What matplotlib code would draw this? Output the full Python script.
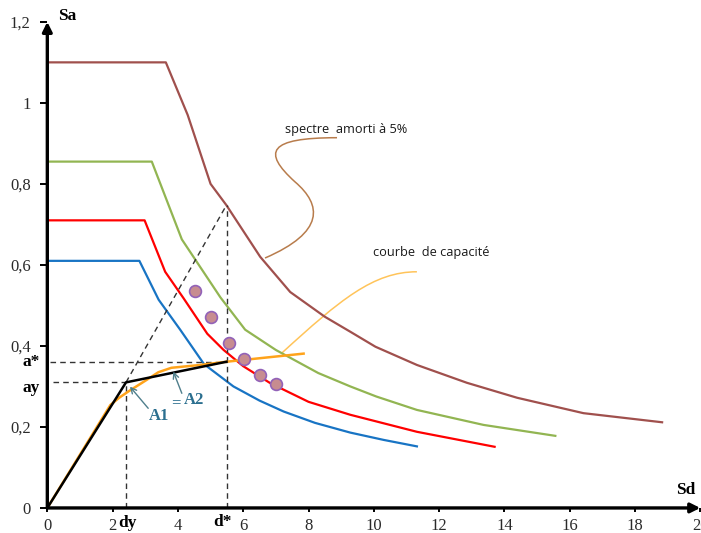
import numpy as np
import matplotlib
matplotlib.use("Agg")
import matplotlib.pyplot as plt
from matplotlib.path import Path
from matplotlib.patches import PathPatch

# =========================
# DATA
# =========================
# damped spectra (ADRS), Sd in cm, Sa in g
brown_x = [0, 3.63, 4.3, 5.0, 5.48, 6.52, 7.44, 8.5, 9.28, 10.05, 11.32, 12.85, 14.39, 16.42, 18.83]
brown_y = [1.1, 1.1, 0.97, 0.80, 0.748, 0.62, 0.533, 0.472, 0.435, 0.398, 0.353, 0.309, 0.272, 0.234, 0.2115]

green_x = [0, 3.2, 4.12, 5.3, 6.06, 7.0, 8.3, 9.28, 10.08, 11.32, 13.36, 15.56]
green_y = [0.855, 0.855, 0.663, 0.52, 0.44, 0.39, 0.333, 0.30, 0.275, 0.242, 0.205, 0.178]

red_x = [0, 2.98, 3.61, 4.17, 4.9, 5.4, 6.0, 6.83, 8.0, 9.28, 11.32, 13.7]
red_y = [0.71, 0.71, 0.583, 0.518, 0.43, 0.39, 0.35, 0.308, 0.262, 0.23, 0.188, 0.151]

blue_x = [0, 2.82, 3.41, 4.07, 4.8, 5.7, 6.5, 7.24, 8.2, 9.28, 10.3, 11.32]
blue_y = [0.61, 0.61, 0.514, 0.44, 0.355, 0.30, 0.265, 0.238, 0.21, 0.186, 0.168, 0.152]

# capacity curve
cap_x = [0, 1.93, 2.2, 2.49, 3.04, 3.4, 3.8, 4.69, 5.49, 7.85]
cap_y = [0, 0.254, 0.272, 0.288, 0.316, 0.335, 0.346, 0.353, 0.361, 0.381]

# bilinear idealisation
dy, ay = 2.41, 0.31
dstar, astar = 5.49, 0.361
apex_y = 0.748
bil_x = [0, dy, dstar]
bil_y = [0, ay, astar]

# performance points
pt_x = [4.53, 5.01, 5.55, 6.03, 6.52, 7.01]
pt_y = [0.536, 0.471, 0.408, 0.368, 0.327, 0.306]

xticks = [0, 2, 4, 6, 8, 10, 12, 14, 16, 18, 20]
xtick_labels = ["0", "2", "4", "6", "8", "10", "12", "14", "16", "18", "20"]
yticks = [0, 0.2, 0.4, 0.6, 0.8, 1.0, 1.2]
ytick_labels = ["0", "0,2", "0,4", "0,6", "0,8", "1", "1,2"]

# =========================
# FIGURE
# =========================
fig = plt.figure(figsize=(7.01, 5.33), dpi=100)
ax = fig.add_axes([0.0675, 0.047, 0.9315, 0.912])
ax.set_xlim(0, 20)
ax.set_ylim(0, 1.2)

for s in ax.spines.values():
    s.set_visible(False)

serif = "Liberation Serif"
sans = "Open Sans"

# spectra
ax.plot(brown_x, brown_y, color="#A0504D", lw=1.6)
ax.plot(green_x, green_y, color="#92B552", lw=1.6)
ax.plot(red_x, red_y, color="#FF0000", lw=1.6)
ax.plot(blue_x, blue_y, color="#1874C4", lw=1.6)

# dashed construction lines
dash = dict(color="#333333", lw=1.0, ls=(0, (4, 3)))
ax.plot([0.08, dstar], [astar, astar], **dash)
ax.plot([0.18, dy], [ay, ay], **dash)
ax.plot([dy, dy], [0, ay], **dash)
ax.plot([dstar, dstar], [0, apex_y], **dash)
ax.plot([dy, dstar], [ay, apex_y], **dash)

# capacity + bilinear
ax.plot(cap_x, cap_y, color="#FFA31A", lw=1.8)
ax.plot(bil_x, bil_y, color="black", lw=1.8)

# performance points
ax.plot(pt_x, pt_y, "o", ms=8.5, mfc="#C78C90", mec="#9262B8", mew=1.2, ls="none")

# axes with arrows
ax.annotate("", xy=(20, 0), xytext=(0, 0), annotation_clip=False,
            arrowprops=dict(arrowstyle="-|>", lw=2.4, color="black", mutation_scale=14,
                            shrinkA=0, shrinkB=0))
ax.annotate("", xy=(0, 1.2), xytext=(0, 0), annotation_clip=False,
            arrowprops=dict(arrowstyle="-|>", lw=2.4, color="black", mutation_scale=14,
                            shrinkA=0, shrinkB=0))

ax.set_xticks(xticks)
ax.set_xticklabels(xtick_labels)
ax.set_yticks(yticks)
ax.set_yticklabels(ytick_labels)
ax.tick_params(axis="y", direction="out", length=5, width=1.4, pad=7,
               labelsize=12, labelcolor="#2a2a2a")
ax.tick_params(axis="x", direction="out", length=3, width=1.4, pad=4,
               labelsize=12, labelcolor="#2a2a2a")
for lab in ax.get_xticklabels() + ax.get_yticklabels():
    lab.set_fontfamily(serif)

# axis names and special values
bold = dict(fontfamily=serif, fontweight="bold", fontsize=12.5, clip_on=False)
ax.text(0.33, 1.215, "Sa", ha="left", va="center", **bold)
ax.text(19.26, 0.044, "Sd", ha="left", va="center", **bold)
ax.text(-0.75, astar, "a*", ha="left", va="center", **bold)
ax.text(-0.75, 0.296, "ay", ha="left", va="center", **bold)
ax.text(2.47, -0.037, "dy", ha="center", va="center", **bold)
ax.text(5.38, -0.034, "d*", ha="center", va="center", **bold)

# A1 = A2
teal = "#2B6F8F"
for tx, ty, s in [(3.42, 0.228, "A1"), (3.95, 0.258, "="), (4.5, 0.267, "A2")]:
    ax.text(tx, ty, s, color=teal, fontfamily=serif, fontweight="bold",
            fontsize=12, ha="center", va="center")
arr = dict(arrowstyle="->", color="#4F7F8C", lw=1.0, shrinkA=0, shrinkB=0)
ax.annotate("", xy=(2.53, 0.2995), xytext=(3.09, 0.246), arrowprops=arr)
ax.annotate("", xy=(3.86, 0.3365), xytext=(4.12, 0.283), arrowprops=arr)

# callouts
ax.text(7.28, 0.935, "spectre  amorti à 5%", fontfamily=sans, fontsize=9.2,
        color="#1a1a1a", ha="left", va="center")
ax.text(9.98, 0.630, "courbe  de capacité", fontfamily=sans, fontsize=9.2,
        color="#1a1a1a", ha="left", va="center")

brown_call = [(6.668, 0.617), (8.505, 0.681), (8.413, 0.748), (7.586, 0.805),
              (6.576, 0.879), (6.760, 0.914), (8.873, 0.914)]
codes = [Path.MOVETO] + [Path.CURVE4] * 6
ax.add_patch(PathPatch(Path(brown_call, codes), fc="none", ec="#B87C4C", lw=1.1))

orange_call = [(7.19, 0.383), (8.97, 0.514), (9.99, 0.583), (11.32, 0.583)]
codes = [Path.MOVETO] + [Path.CURVE4] * 3
ax.add_patch(PathPatch(Path(orange_call, codes), fc="none", ec="#FFC45A", lw=1.1))

fig.savefig("out.png", dpi=100)
